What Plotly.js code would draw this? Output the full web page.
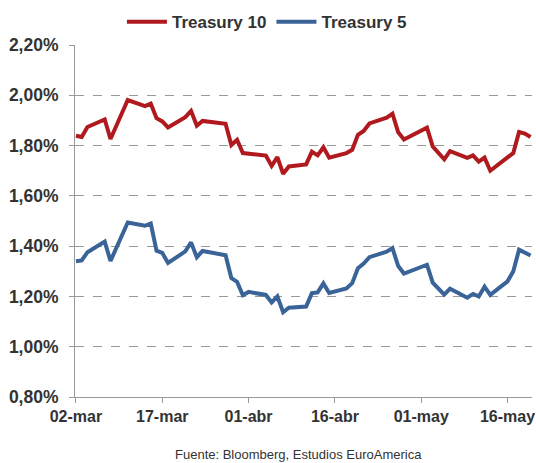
<!DOCTYPE html>
<html>
<head>
<meta charset="utf-8">
<script src="https://cdn.plot.ly/plotly-3.0.1.min.js"></script>
<style>html,body{margin:0;padding:0;background:#fff;}#chart{width:536px;height:463px;}</style>
</head>
<body>
<div id="chart"></div>
<script>
const dates = [
  "2016-03-02","2016-03-03","2016-03-04","2016-03-07","2016-03-08","2016-03-09","2016-03-10","2016-03-11",
  "2016-03-14","2016-03-15","2016-03-16","2016-03-17","2016-03-18","2016-03-21","2016-03-22","2016-03-23",
  "2016-03-24","2016-03-28","2016-03-29","2016-03-30","2016-03-31",
  "2016-04-01","2016-04-04","2016-04-05","2016-04-06","2016-04-07","2016-04-08","2016-04-11","2016-04-12",
  "2016-04-13","2016-04-14","2016-04-15","2016-04-18","2016-04-19","2016-04-20","2016-04-21","2016-04-22",
  "2016-04-25","2016-04-26","2016-04-27","2016-04-28","2016-04-29",
  "2016-05-02","2016-05-03","2016-05-04","2016-05-05","2016-05-06","2016-05-09","2016-05-10","2016-05-11",
  "2016-05-12","2016-05-13","2016-05-16","2016-05-17","2016-05-18","2016-05-19","2016-05-20"
];
const treasury10 = [
  1.839,1.834,1.874,1.904,1.826,1.877,1.929,1.981,1.957,1.967,1.909,1.896,1.872,1.913,1.938,1.879,1.898,1.887,1.802,1.823,1.770,
  1.767,1.760,1.719,1.754,1.688,1.717,1.725,1.776,1.761,1.793,1.752,1.770,1.783,1.843,1.858,1.888,1.911,1.927,1.853,1.824,1.836,
  1.871,1.796,1.771,1.745,1.778,1.751,1.761,1.736,1.752,1.700,1.753,1.770,1.854,1.848,1.834
];
const treasury5 = [
  1.340,1.343,1.376,1.418,1.341,1.392,1.445,1.494,1.481,1.490,1.382,1.373,1.333,1.379,1.415,1.356,1.381,1.364,1.273,1.258,1.205,
  1.218,1.206,1.176,1.200,1.137,1.155,1.160,1.213,1.216,1.252,1.214,1.232,1.253,1.312,1.331,1.356,1.378,1.392,1.321,1.291,1.300,
  1.326,1.255,1.229,1.207,1.231,1.195,1.210,1.200,1.239,1.206,1.260,1.300,1.386,1.374,1.363
];
const xTickVals = ["2016-03-02","2016-03-17","2016-04-01","2016-04-16","2016-05-01","2016-05-16"];
const xTickText = ["02-mar","17-mar","01-abr","16-abr","01-may","16-may"];
const seriesNames = ["Treasury 10","Treasury 5"];
const seriesColors = ["#B0191E","#3A6497"];

const FONT = "Liberation Sans, Arial, sans-serif";
const traces = [
  {x: dates, y: treasury10, name: seriesNames[0], type: "scatter", mode: "lines",
   line: {color: seriesColors[0], width: 4}},
  {x: dates, y: treasury5, name: seriesNames[1], type: "scatter", mode: "lines",
   line: {color: seriesColors[1], width: 4}}
];
const layout = {
  width: 536, height: 463,
  margin: {l: 75, r: 4, t: 42, b: 66},
  paper_bgcolor: "#fff", plot_bgcolor: "#fff",
  separators: ",.",
  showlegend: true,
  legend: {orientation: "h", x: 0.42, xanchor: "center", y: 1.065, yanchor: "middle",
           font: {family: FONT, size: 17, color: "#333", weight: "bold"}, bgcolor: "rgba(0,0,0,0)",
           traceorder: "normal", itemwidth: 40},
  xaxis: {
    type: "date",
    range: ["2016-03-01 20:00", "2016-05-20 06:00"],
    tickmode: "array", tickvals: xTickVals, ticktext: xTickText,
    ticks: "outside", ticklen: 5, tickcolor: "#999", tickwidth: 1,
    ticklabeloverflow: "allow",
    showgrid: false, showline: true, linecolor: "#999", linewidth: 1,
    tickfont: {family: FONT, size: 16, color: "#333", weight: "bold"},
    zeroline: false, fixedrange: true
  },
  yaxis: {
    range: [0.8, 2.2], dtick: 0.2, tick0: 0.8,
    tickformat: ".2f", ticksuffix: "%",
    ticks: "outside", ticklen: 5, tickcolor: "#999", tickwidth: 1,
    ticklabelstandoff: 7,
    showgrid: true, gridcolor: "#999", griddash: "dash", gridwidth: 1,
    showline: true, linecolor: "#999", linewidth: 1,
    tickfont: {family: FONT, size: 17.5, color: "#333", weight: "bold"},
    zeroline: false, fixedrange: true
  },
  annotations: [{
    text: "Fuente: Bloomberg, Estudios EuroAmerica",
    xref: "paper", yref: "paper", x: 0.49, y: -0.163, xanchor: "center", yanchor: "middle",
    showarrow: false, font: {family: FONT, size: 13, color: "#333"}
  }]
};
Plotly.newPlot("chart", traces, layout, {displayModeBar: false, staticPlot: true});
</script>
</body>
</html>
